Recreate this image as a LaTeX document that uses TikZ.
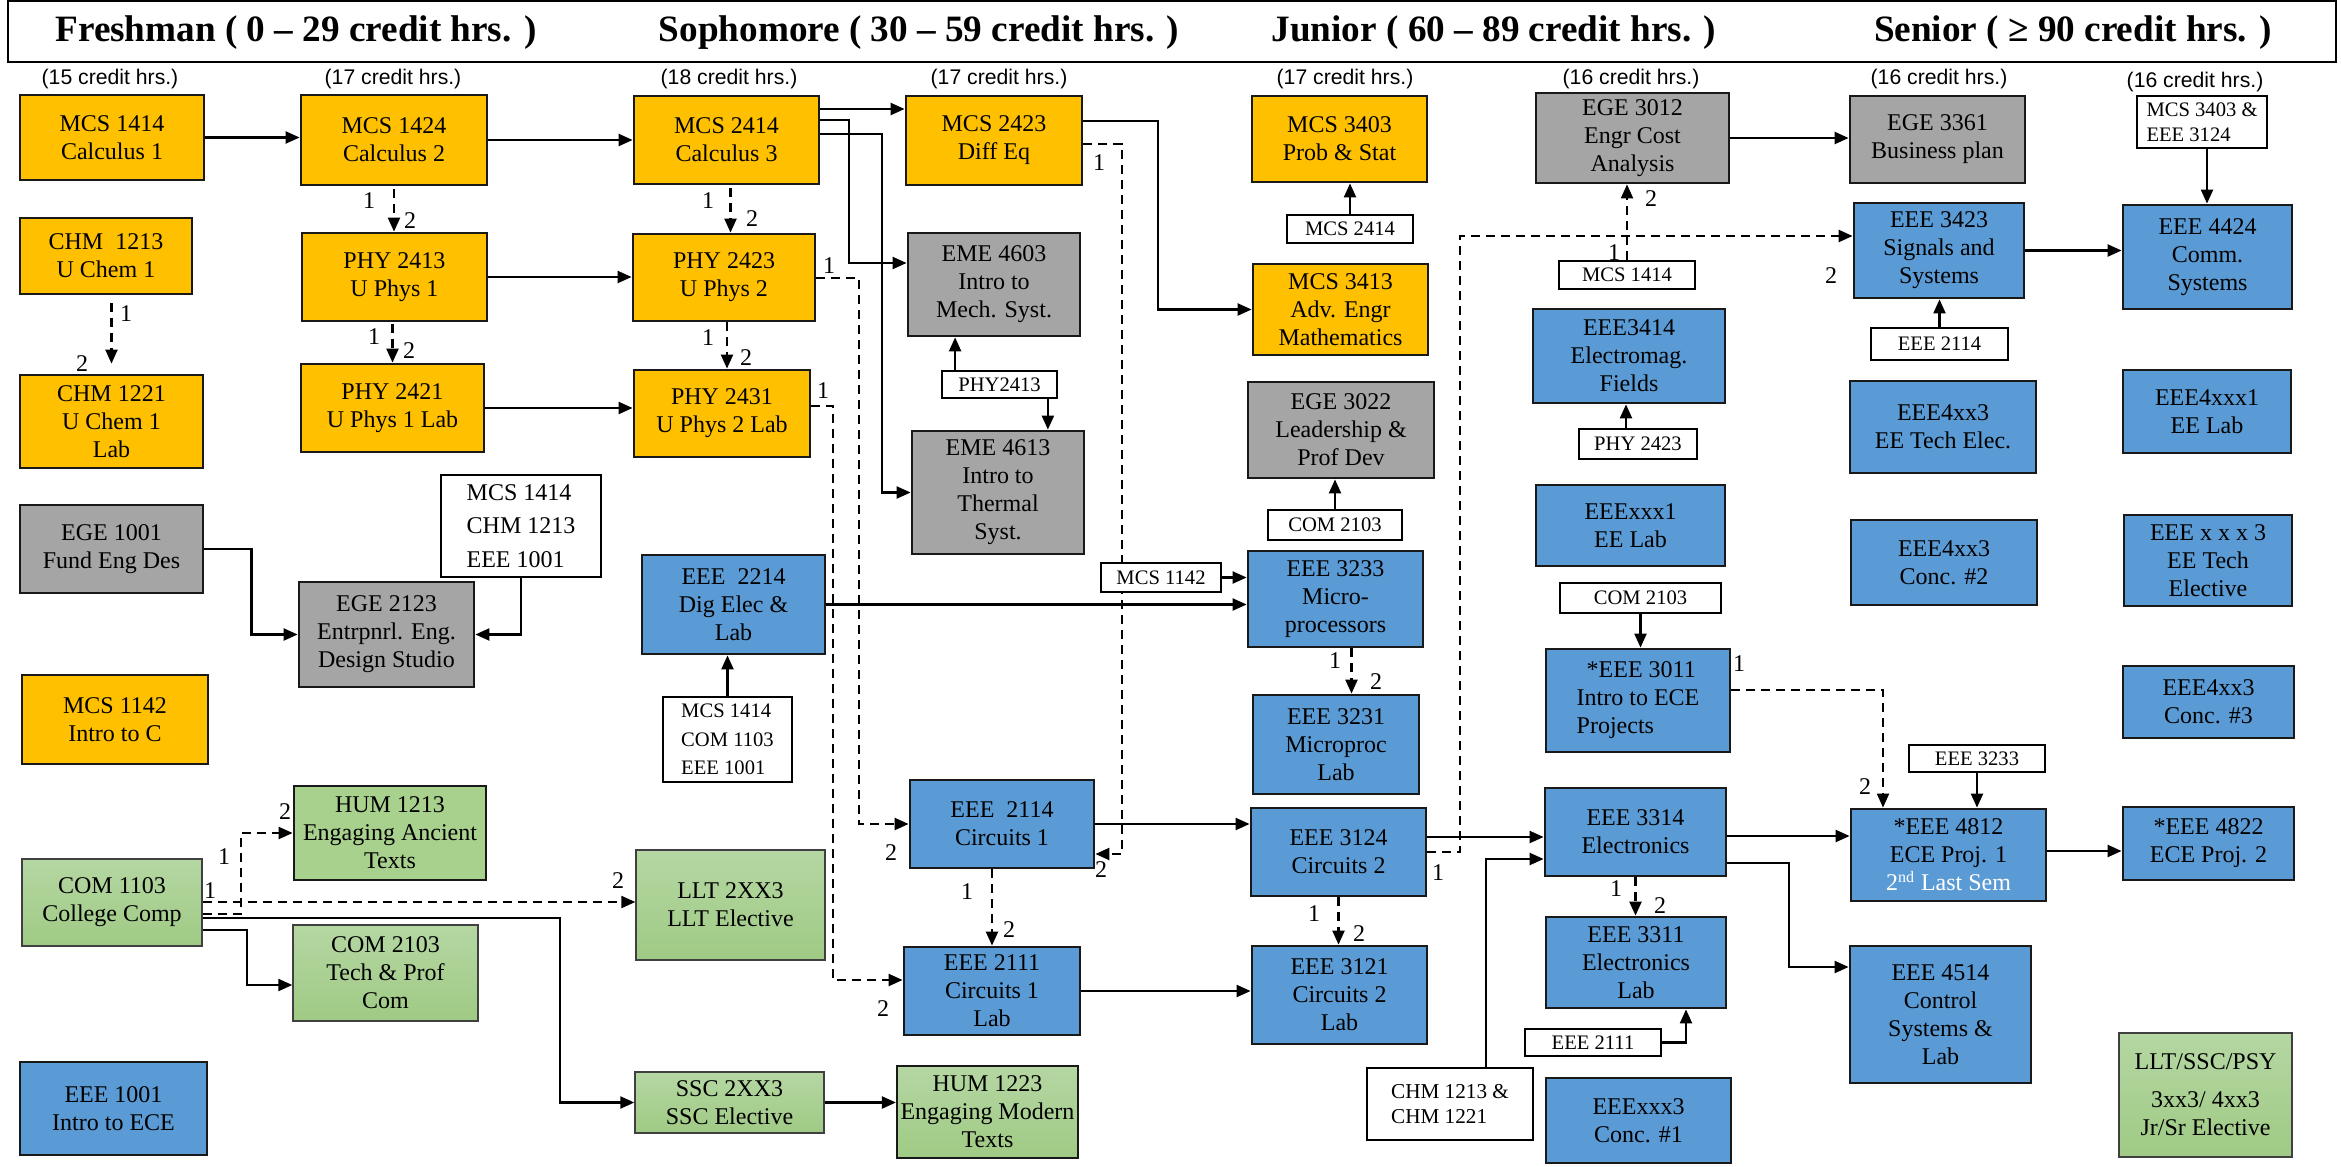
\documentclass[tikz,border=0pt]{standalone}
\usepackage{fontspec}
\setmainfont{Liberation Serif}
\newfontfamily\arialf{Liberation Sans}
\usetikzlibrary{arrows.meta,backgrounds}
\definecolor{cgold}{HTML}{FFC000}
\definecolor{cgray}{HTML}{A5A5A5}
\definecolor{cblue}{HTML}{5B9BD5}
\definecolor{cgreen}{HTML}{A9D18E}
\definecolor{cgreenT}{HTML}{B5D7A3}
\definecolor{cgreenB}{HTML}{9FCA84}
\newcommand{\myfs}[2]{\fontsize{#1pt}{#2pt}\selectfont}
\newcommand{\coursebox}[7]{%
  \node[#6, minimum width={(#4-#2)*0.5pt}, minimum height={(#5-#3)*0.5pt}] (#1) at ({(#2+#4)/2},{(#3+#5)/2}) {#7};}
\begin{document}
\begin{tikzpicture}[x=0.5pt,y=-0.5pt,
  hdr/.style={draw, line width=0.7pt, inner sep=0pt},
  title/.style={font=\bfseries\myfs{18.6}{20}, inner sep=0pt},
  cr/.style={font=\arialf\myfs{10.6}{12}, inner sep=0pt},
  box/.style={draw=black!90, line width=1.4pt, align=center, inner sep=1pt, font=\myfs{12}{14}},
  goldb/.style={box, fill=cgold},
  grayb/.style={box, fill=cgray},
  blueb/.style={box, fill=cblue},
  greenb/.style={box, draw=black!75, line width=0.7pt, top color=cgreenT, bottom color=cgreenB},
  greenm/.style={box, line width=1.1pt, top color=cgreenT, bottom color=cgreenB},
  greenf/.style={box, fill=cgreen},
  pre/.style={draw, line width=0.9pt, fill=white, align=center, inner sep=1pt, font=\myfs{10.3}{12.5}},
  conn/.style={line width=1.1pt, -{Triangle[length=7pt,width=6pt]}},
  dconn/.style={conn, dash pattern=on 4.5pt off 3pt},
  lab/.style={font=\myfs{12}{12}, inner sep=0pt}]
\useasboundingbox (0,0) rectangle (2341,1167);

% header
\coursebox{header}{8}{1}{2336}{62}{hdr}{}
\node[title] (tfr) at (296,33) {Freshman ( 0 – 29 credit hrs. )};
\node[title] (tso) at (919,33) {Sophomore ( 30 – 59 credit hrs. )};
\node[title] (tju) at (1494,33) {Junior ( 60 – 89 credit hrs. )};
\node[title] (tse) at (2073,33) {Senior ( ≥ 90 credit hrs. )};

\node[cr] (cr1) at (110,79) {(15 credit hrs.)};
\node[cr] (cr2) at (393,79) {(17 credit hrs.)};
\node[cr] (cr3) at (729,79) {(18 credit hrs.)};
\node[cr] (cr4) at (999,79) {(17 credit hrs.)};
\node[cr] (cr5) at (1345,79) {(17 credit hrs.)};
\node[cr] (cr6) at (1631,79) {(16 credit hrs.)};
\node[cr] (cr7) at (1939,79) {(16 credit hrs.)};
\node[cr] (cr8) at (2195,82) {(16 credit hrs.)};

% column 1
\coursebox{mcs1414}{20}{95}{204}{180}{goldb}{MCS 1414\\Calculus 1}
\coursebox{chm1213}{20}{218}{192}{294}{goldb}{CHM~~1213\\U Chem 1}
\coursebox{chm1221}{20}{375}{203}{468}{goldb}{CHM 1221\\U Chem 1\\Lab}
\coursebox{ege1001}{20}{505}{203}{593}{grayb}{EGE 1001\\Fund Eng Des}
\coursebox{mcs1142}{22}{675}{208}{764}{goldb}{MCS 1142\\Intro to C}
\coursebox{com1103}{22}{859}{202}{946}{greenb}{COM 1103\\College Comp}
\coursebox{eee1001}{20}{1062}{207}{1155}{blueb}{EEE 1001\\Intro to ECE}
% column 2
\coursebox{mcs1424}{301}{95}{487}{185}{goldb}{MCS 1424\\Calculus 2}
\coursebox{phy2413}{302}{233}{487}{321}{goldb}{PHY 2413\\U Phys 1}
\coursebox{phy2421}{301}{364}{484}{452}{goldb}{PHY 2421\\U Phys 1 Lab}
\coursebox{pre1}{441}{475}{601}{577}{pre, align=left, font=\myfs{12}{16.7}}{MCS 1414\\CHM 1213\\EEE 1001}
\coursebox{ege2123}{299}{582}{474}{687}{grayb}{EGE 2123\\Entrpnrl. Eng.\\Design Studio}
\coursebox{hum1213}{294}{786}{486}{880}{greenf}{HUM 1213\\Engaging Ancient\\Texts}
\coursebox{com2103}{293}{925}{478}{1021}{greenb}{COM 2103\\Tech \& Prof\\Com}
% column 3
\coursebox{mcs2414}{634}{96}{819}{184}{goldb}{MCS 2414\\Calculus 3}
\coursebox{phy2423}{633}{234}{815}{321}{goldb}{PHY 2423\\U Phys 2}
\coursebox{phy2431}{634}{370}{810}{457}{goldb}{PHY 2431\\U Phys 2 Lab}
\coursebox{eee2214}{642}{555}{825}{654}{blueb}{EEE~~2214\\Dig Elec \&\\Lab}
\coursebox{pre2}{663}{697}{792}{782}{pre, align=left, font=\myfs{10.3}{14.3}}{MCS 1414\\COM 1103\\EEE 1001}
\coursebox{llt}{636}{850}{825}{960}{greenb}{LLT 2XX3\\LLT Elective}
\coursebox{ssc}{635}{1072}{824}{1133}{greenb}{SSC 2XX3\\SSC Elective}
% column 4
\coursebox{mcs2423}{906}{96}{1082}{185}{goldb}{MCS 2423\\Diff Eq}
\coursebox{eme4603}{908}{233}{1080}{336}{grayb}{EME 4603\\Intro to\\Mech. Syst.}
\coursebox{p2413}{942}{371}{1057}{398}{pre}{PHY2413}
\coursebox{eme4613}{912}{431}{1084}{554}{grayb}{EME 4613\\Intro to\\Thermal\\Syst.}
\coursebox{eee2114}{910}{780}{1094}{868}{blueb}{EEE~~2114\\Circuits 1}
\coursebox{eee2111}{904}{947}{1080}{1035}{blueb}{EEE 2111\\Circuits 1\\Lab}
\coursebox{hum1223}{897}{1066}{1078}{1158}{greenm}{HUM 1223\\Engaging Modern\\Texts}
\coursebox{pm1142}{1101}{563}{1221}{592}{pre}{MCS 1142}
% column 5
\coursebox{mcs3403}{1252}{96}{1427}{182}{goldb}{MCS 3403\\Prob \& Stat}
\coursebox{pm2414}{1287}{215}{1413}{243}{pre}{MCS 2414}
\coursebox{mcs3413}{1253}{264}{1428}{355}{goldb}{MCS 3413\\Adv. Engr\\Mathematics}
\coursebox{ege3022}{1248}{382}{1434}{478}{grayb}{EGE 3022\\Leadership \&\\Prof Dev}
\coursebox{pc2103}{1268}{510}{1402}{540}{pre}{COM 2103}
\coursebox{eee3233}{1248}{551}{1423}{647}{blueb}{EEE 3233\\Micro-\\processors}
\coursebox{eee3231}{1253}{695}{1419}{794}{blueb}{EEE 3231\\Microproc\\Lab}
\coursebox{eee3124}{1251}{808}{1426}{896}{blueb}{EEE 3124\\Circuits 2}
\coursebox{eee3121}{1252}{946}{1427}{1044}{blueb}{EEE 3121\\Circuits 2\\Lab}
\coursebox{pchm}{1367}{1068}{1533}{1140}{pre, align=left, font=\myfs{10.6}{12.2}}{CHM 1213 \&\\CHM 1221}
% column 6
\coursebox{ege3012}{1536}{93}{1729}{183}{grayb}{EGE 3012\\Engr Cost\\Analysis}
\coursebox{pm1414}{1559}{261}{1695}{289}{pre}{MCS 1414}
\coursebox{eee3414}{1533}{309}{1725}{403}{blueb}{EEE3414\\Electromag.\\Fields}
\coursebox{pp2423}{1579}{429}{1697}{459}{pre}{PHY 2423}
\coursebox{eeexxx1}{1536}{485}{1725}{566}{blueb}{EEExxx1\\EE Lab}
\coursebox{pc2103b}{1560}{583}{1721}{613}{pre}{COM 2103}
\coursebox{eee3011}{1546}{649}{1730}{752}{blueb, align=left}{\hspace*{5pt}*EEE 3011\\Intro to ECE\\Projects}
\coursebox{eee3314}{1545}{788}{1726}{876}{blueb}{EEE 3314\\Electronics}
\coursebox{eee3311}{1546}{917}{1726}{1008}{blueb}{EEE 3311\\Electronics\\Lab}
\coursebox{pe2111}{1525}{1029}{1661}{1056}{pre}{EEE 2111}
\coursebox{eeexxx3}{1546}{1078}{1731}{1163}{blueb}{EEExxx3\\Conc. \#1}
% column 7
\coursebox{ege3361}{1850}{96}{2025}{183}{grayb}{EGE 3361\\Business plan}
\coursebox{eee3423}{1854}{203}{2024}{298}{blueb}{EEE 3423\\Signals and\\Systems}
\coursebox{pe2114}{1871}{328}{2008}{360}{pre}{EEE 2114}
\coursebox{eeefa}{1850}{381}{2036}{473}{blueb}{EEE4xx3\\EE Tech Elec.}
\coursebox{eeefb}{1851}{520}{2037}{605}{blueb}{EEE4xx3\\Conc. \#2}
\coursebox{pe3233}{1909}{745}{2045}{772}{pre}{EEE 3233}
\coursebox{eee4812}{1851}{809}{2046}{901}{blueb}{*EEE 4812\\ECE Proj. 1\\{\color{white}2\textsuperscript{nd} Last Sem}}
\coursebox{eee4514}{1850}{946}{2031}{1083}{blueb}{EEE 4514\\Control\\Systems \&\\Lab}
% column 8
\coursebox{pm3403}{2137}{96}{2267}{148}{pre, align=left, font=\myfs{10.3}{12.6}}{MCS 3403 \&\\EEE 3124}
\coursebox{eee4424}{2123}{205}{2292}{309}{blueb}{EEE 4424\\Comm.\\Systems}
\coursebox{eeefc}{2123}{370}{2291}{453}{blueb}{EEE4xxx1\\EE Lab}
\coursebox{eeefd}{2124}{515}{2292}{606}{blueb}{EEE x x x 3\\EE Tech\\Elective}
\coursebox{eeefe}{2123}{666}{2294}{738}{blueb}{EEE4xx3\\Conc. \#3}
\coursebox{eee4822}{2123}{807}{2294}{880}{blueb}{*EEE 4822\\ECE Proj. 2}
\coursebox{lltssc}{2119}{1033}{2292}{1157}{greenb}{LLT/SSC/PSY\\[5pt]3xx3/ 4xx3\\Jr/Sr Elective}

\begin{pgfonlayer}{background}
% solid connectors
\draw[conn] (mcs1414.east) -- (mcs1414.east -| mcs1424.west);
\draw[conn] (mcs1424.east) -- (mcs1424.east -| mcs2414.west);
\draw[conn] (phy2413.east) -- (phy2413.east -| phy2423.west);
\draw[conn] (phy2421.east) -- (phy2421.east -| phy2431.west);
\draw[conn] (ege1001.east) -- ++(47,0) |- (ege2123.west);
\draw[conn] (pre1.south) |- (ege2123.east);
\draw[conn] (com1103.east |- 0,930) -- (247,930) |- (com2103.west |- 0,985);
\draw[conn] (com1103.east |- 0,918) -- (560,918) |- (ssc.west);
\draw[conn] (ssc.east) -- (ssc.east -| hum1223.west);
\draw[conn] (mcs2414.east |- 0,109) -- (mcs2423.west |- 0,109);
\draw[conn] (mcs2414.east |- 0,120) -- (849,120) |- (eme4603.west |- 0,263);
\draw[conn] (mcs2414.east |- 0,134) -- (882,134) |- (eme4613.west);
\draw[conn] (mcs2423.east |- 0,121) -- (1158,121) |- (mcs3413.west);
\draw[conn] ([xshift=7pt]p2413.north west) -- ([xshift=7pt]p2413.north west |- eme4603.south);
\draw[conn] ([xshift=-5pt]p2413.south east) -- ([xshift=-5pt]p2413.south east |- eme4613.north);
\draw[conn] (pm2414.north) -- (pm2414.north |- mcs3403.south);
\draw[conn] (pc2103.north) -- (pc2103.north |- ege3022.south);
\draw[conn] (pm1142.east) -- (pm1142.east -| eee3233.west);
\draw[conn] (eee2214.east) -- (eee2214.east -| eee3233.west);
\draw[conn] (pre2.north) -- (pre2.north |- eee2214.south);
\draw[conn] (eee2114.east) -- (eee2114.east -| eee3124.west);
\draw[conn] (eee2111.east) -- (eee2111.east -| eee3121.west);
\draw[conn] (eee3124.east |- 0,837) -- (eee3314.west |- 0,837);
\draw[conn] ([xshift=18pt]pchm.north) |- (eee3314.west |- 0,859);
\draw[conn] (eee3314.east |- 0,836) -- (eee4812.west |- 0,836);
\draw[conn] (eee3314.east |- 0,863) -- (1789,863) |- (eee4514.west |- 0,967);
\draw[conn] (pe2111.east) -| ([xshift=25pt]eee3311.south);
\draw[conn] (pc2103b.south) -- (pc2103b.south |- eee3011.north);
\draw[conn] ([xshift=-6pt]pp2423.north) -- ([xshift=-6pt]pp2423.north |- eee3414.south);
\draw[conn] (ege3012.east) -- (ege3012.east -| ege3361.west);
\draw[conn] (eee3423.east) -- (eee3423.east -| eee4424.west);
\draw[conn] (pe2114.north) -- (pe2114.north |- eee3423.south);
\draw[conn] ([xshift=2.5pt]pm3403.south) -- ([xshift=2.5pt]pm3403.south |- eee4424.north);
\draw[conn] (pe3233.south) -- (pe3233.south |- eee4812.north);
\draw[conn] (eee4812.east |- 0,851) -- (eee4822.west |- 0,851);
% dashed connectors
\draw[dconn, shorten <=4pt, shorten >=5pt] (chm1221.north |- chm1213.south) -- (chm1221.north);
\draw[dconn, shorten <=1.5pt] (mcs1424.south) -- (mcs1424.south |- phy2413.north);
\draw[dconn, shorten <=1pt] (phy2421.north |- phy2413.south) -- (phy2421.north);
\draw[dconn, shorten <=1.5pt] ([xshift=2pt]mcs2414.south) -- ([xshift=2pt]mcs2414.south |- phy2423.north);
\draw[dconn] ([xshift=1.5pt]phy2423.south) -- ([xshift=1.5pt]phy2423.south |- phy2431.north);
\draw[dconn] (phy2423.east |- 0,278) -- (859,278) |- (eee2114.west);
\draw[dconn] (phy2431.east |- 0,406) -- (833,406) |- (eee2111.west |- 0,980);
\draw[dconn] (mcs2423.east |- 0,144) -- (1122,144) |- (eee2114.east |- 0,854);
\draw[dconn] (eee2111.north |- eee2114.south) -- (eee2111.north);
\draw[dconn] (com1103.east |- 0,914) -- (241,914) |- (hum1213.west);
\draw[dconn] (com1103.east |- 0,902) -- (llt.west |- 0,902);
\draw[dconn] ([xshift=8pt]eee3233.south) -- ([xshift=8pt]eee3233.south |- eee3231.north);
\draw[dconn] (eee3124.east |- 0,852) -- (1460,852) |- (eee3423.west |- 0,236);
\draw[dconn] (pm1414.north) -- (pm1414.north |- ege3012.south);
\draw[dconn] (eee3124.south) -- (eee3124.south |- eee3121.north);
\draw[dconn] (eee3314.south) -- (eee3314.south |- eee3311.north);
\draw[dconn] (eee3011.east |- 0,690) -| ([xshift=-32.75pt]eee4812.north);
\end{pgfonlayer}

% number labels
\node[lab] (la1) at (126,314) {1};   \node[lab] (lb1) at (82,364) {2};
\node[lab] (la2) at (369,201) {1};   \node[lab] (lb2) at (410,221) {2};
\node[lab] (la3) at (374,337) {1};   \node[lab] (lb3) at (409,351) {2};
\node[lab] (la4) at (708,201) {1};   \node[lab] (lb4) at (752,219) {2};
\node[lab] (la5) at (708,338) {1};   \node[lab] (lb5) at (746,358) {2};
\node[lab] (la6) at (829,266) {1};   \node[lab] (lb6) at (891,853) {2};
\node[lab] (la7) at (823,391) {1};   \node[lab] (lb7) at (883,1009) {2};
\node[lab] (la8) at (1099,163) {1};  \node[lab] (lb8) at (1101,870) {2};
\node[lab] (la9) at (967,892) {1};   \node[lab] (lb9) at (1009,930) {2};
\node[lab] (la10) at (224,857) {1};  \node[lab] (lb10) at (285,812) {2};
\node[lab] (la11) at (210,891) {1};  \node[lab] (lb11) at (618,881) {2};
\node[lab] (la12) at (1335,661) {1}; \node[lab] (lb12) at (1376,682) {2};
\node[lab] (la13) at (1438,873) {1}; \node[lab] (lb13) at (1831,276) {2};
\node[lab] (la14) at (1614,253) {1}; \node[lab] (lb14) at (1651,199) {2};
\node[lab] (la15) at (1314,914) {1}; \node[lab] (lb15) at (1359,934) {2};
\node[lab] (la16) at (1616,889) {1}; \node[lab] (lb16) at (1660,906) {2};
\node[lab] (la17) at (1739,664) {1}; \node[lab] (lb17) at (1865,787) {2};
\end{tikzpicture}
\end{document}
